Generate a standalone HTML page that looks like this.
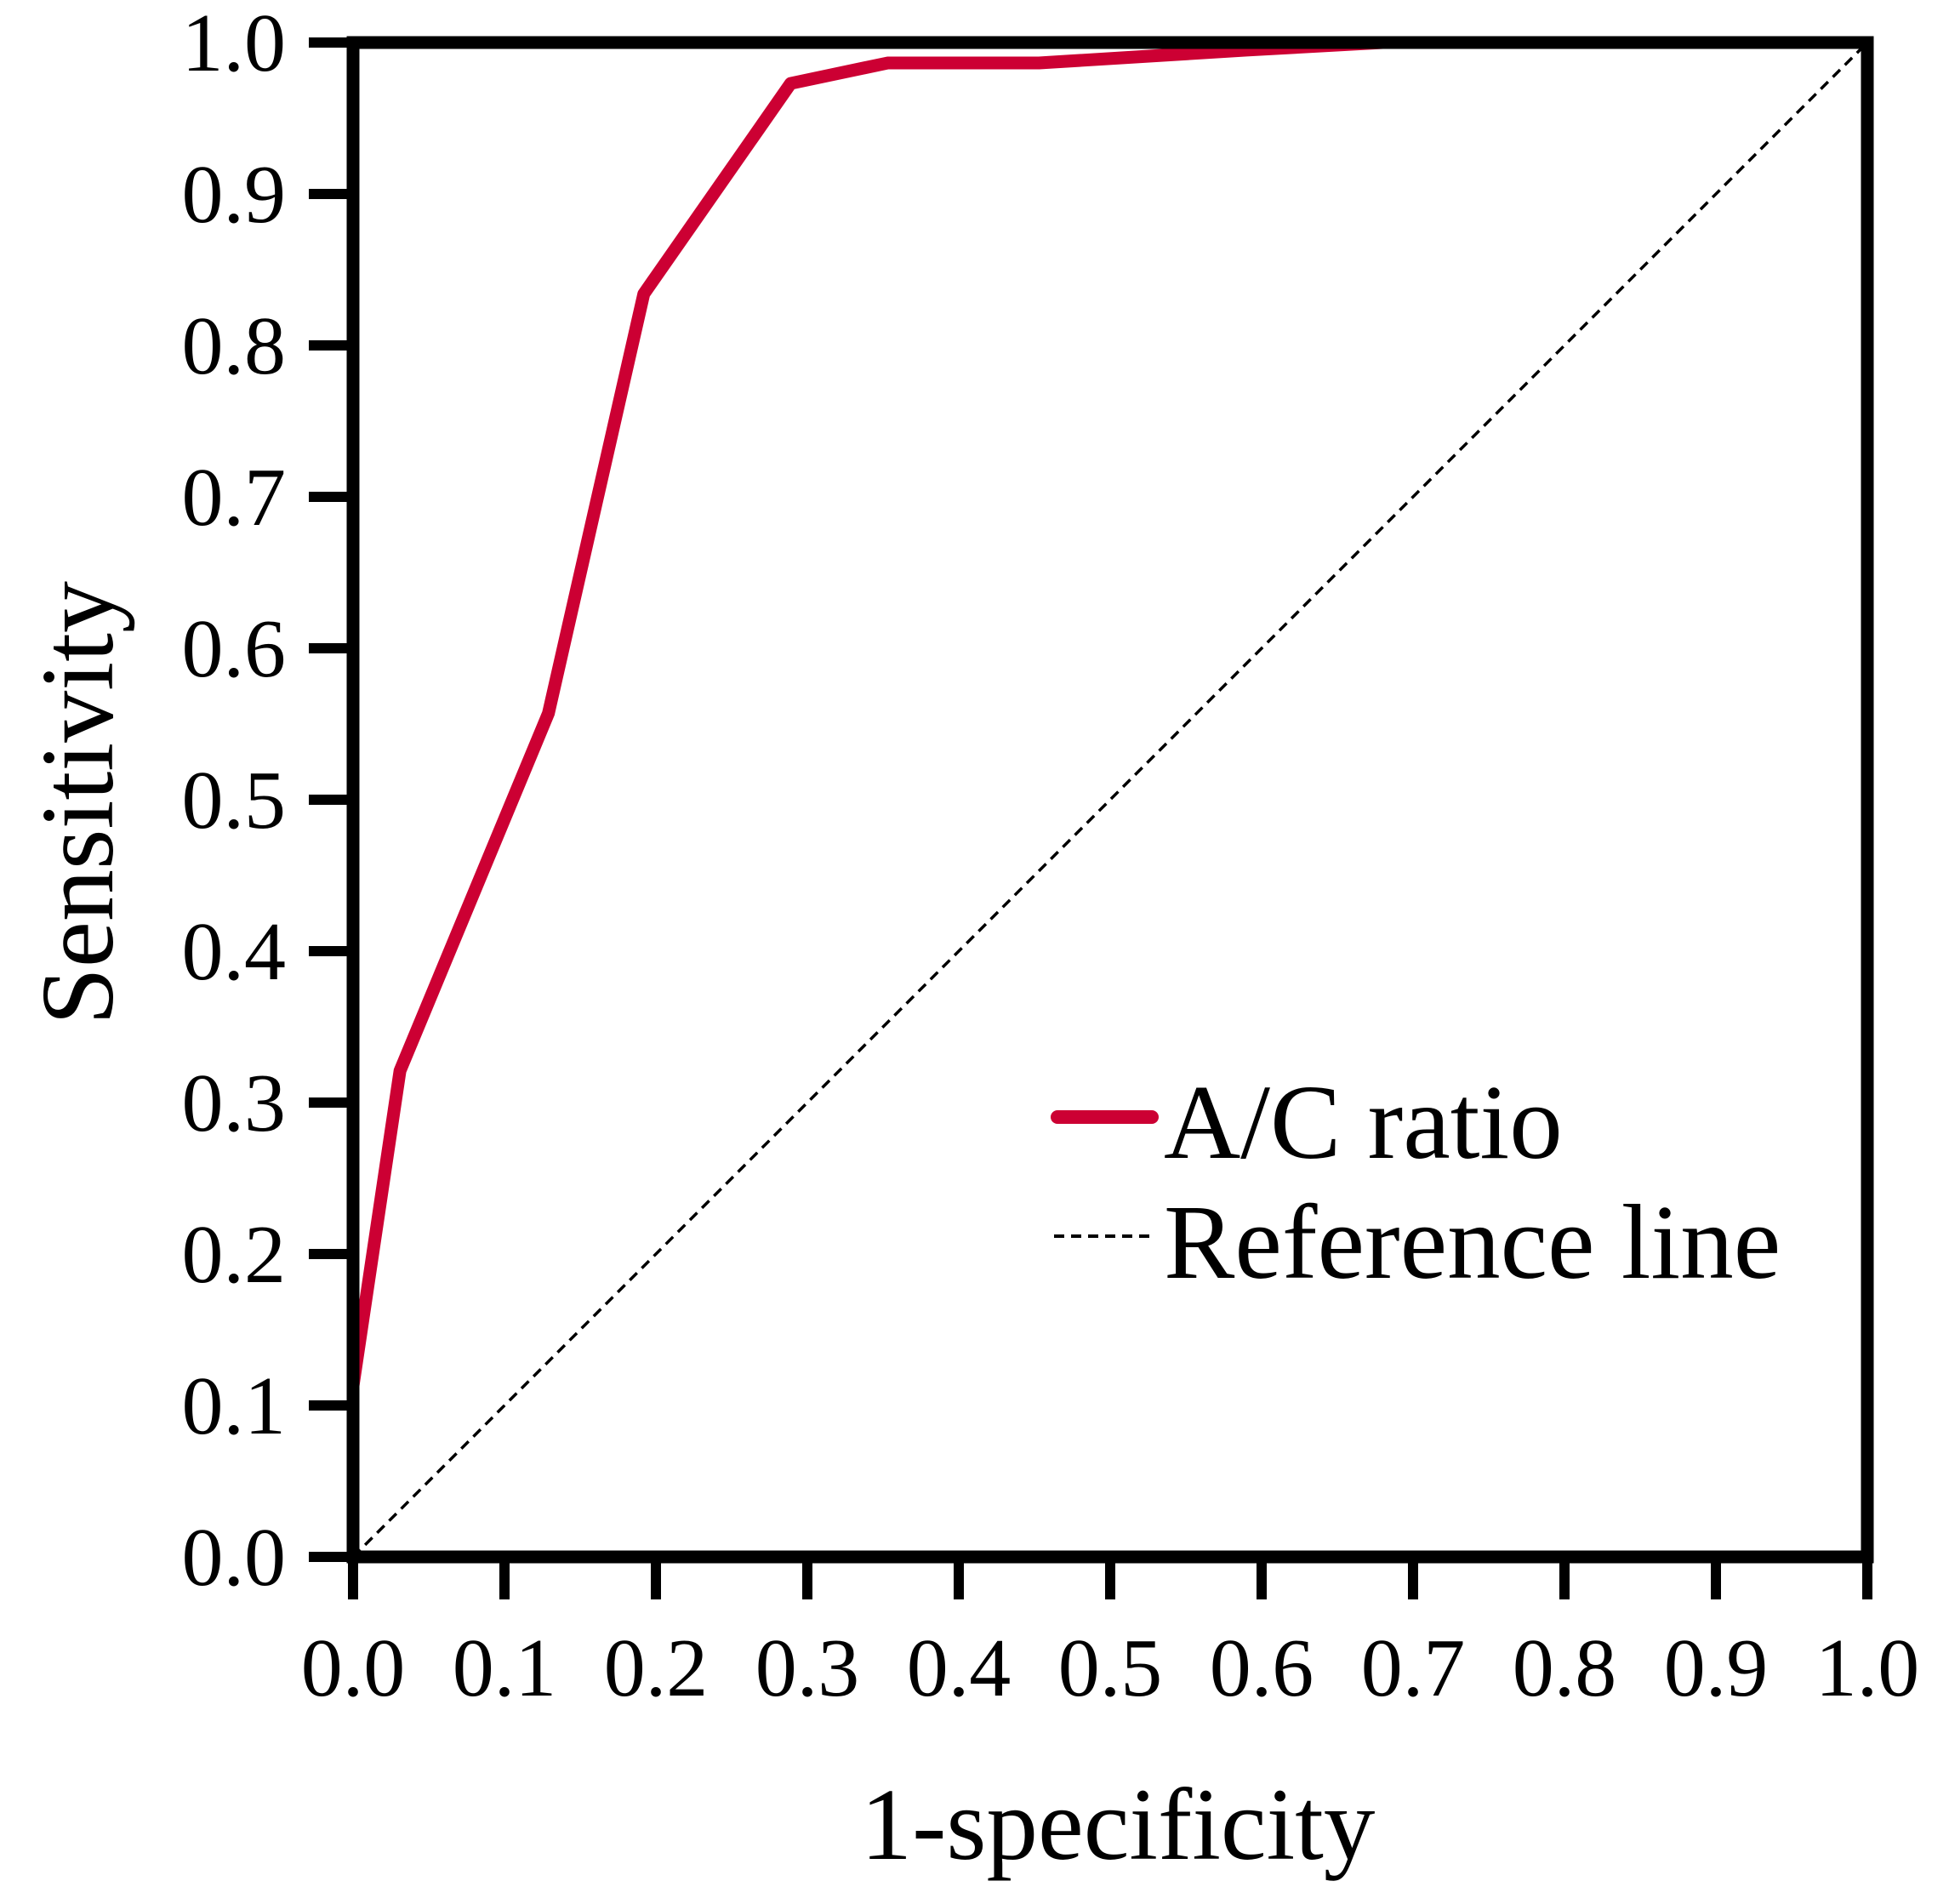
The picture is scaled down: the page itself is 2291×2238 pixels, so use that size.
<!DOCTYPE html>
<html><head><meta charset="utf-8"><style>
html,body{margin:0;padding:0;background:#fff;}
svg{display:block;}
text{font-family:"Liberation Serif","Times New Roman",serif;fill:#000;}
</style></head><body>
<svg id="chart" width="2291" height="2238" viewBox="0 0 2291 2238" xmlns="http://www.w3.org/2000/svg">
<g id="plot"></g>
</svg>
<script>
const fprValues = [0, 0.031, 0.129, 0.192, 0.289, 0.353, 0.453, 0.59, 0.68, 1.0];
const sensValues = [0.113, 0.321, 0.557, 0.834, 0.973, 0.9865, 0.9865, 0.995, 1.0, 1.0];
const refX = [0, 1];
const refY = [0, 1];
const tickValues = [0,0.1,0.2,0.3,0.4,0.5,0.6,0.7,0.8,0.9,1.0];
const tickLabels = ["0.0","0.1","0.2","0.3","0.4","0.5","0.6","0.7","0.8","0.9","1.0"];

const X0=415, X1=2195, Y0=1830, Y1=50;
function sx(v){return X0+(X1-X0)*v;}
function sy(v){return Y0-(Y0-Y1)*v;}
const NS="http://www.w3.org/2000/svg";
const g=document.getElementById('plot');
function mk(tag,attrs){const e=document.createElementNS(NS,tag);for(const k in attrs)e.setAttribute(k,attrs[k]);g.appendChild(e);return e;}

// reference diagonal
const ref=mk('polyline',{points:refX.map((x,i)=>sx(x)+','+sy(refY[i])).join(' '),fill:'none',stroke:'#000','stroke-width':3.5,'stroke-dasharray':'12 8'});



// ROC curve
const roc=mk('polyline',{points:fprValues.map((x,i)=>sx(x)+','+sy(sensValues[i])).join(' '),fill:'none',stroke:'#cc0033','stroke-width':15,'stroke-linejoin':'round'});



// frame
const frame=mk('rect',{x:X0,y:Y1,width:X1-X0,height:Y0-Y1,fill:'none',stroke:'#000','stroke-width':15});



tickValues.forEach((v,i)=>{
  const xt=mk('line',{x1:sx(v),y1:Y0,x2:sx(v),y2:1880,stroke:'#000','stroke-width':12});
  
  
  const xl=mk('text',{x:sx(v),y:1993,'font-size':98,'text-anchor':'middle'});
  xl.textContent=tickLabels[i];
  
  
  const yt=mk('line',{x1:363,y1:sy(v),x2:X0,y2:sy(v),stroke:'#000','stroke-width':12});
  
  
  const yl=mk('text',{x:336,y:sy(v)+33,'font-size':98,'text-anchor':'end'});
  yl.textContent=tickLabels[i];
  
  
});

const xtitle=mk('text',{x:1314,y:2185,'font-size':121,'text-anchor':'middle'});
xtitle.textContent='1-specificity';


const ytitle=mk('text',{x:0,y:0,'font-size':122,'text-anchor':'middle',transform:'translate(132,944) rotate(-90)'});
ytitle.textContent='Sensitivity';



// legend
const l1=mk('line',{x1:1243,y1:1313,x2:1354,y2:1313,stroke:'#cc0033','stroke-width':16,'stroke-linecap':'round'});


const t1=mk('text',{x:1368,y:1361,'font-size':125});
t1.textContent='A/C ratio';


const l2=mk('line',{x1:1239,y1:1453,x2:1351,y2:1453,stroke:'#000','stroke-width':4,'stroke-dasharray':'12 8'});


const t2=mk('text',{x:1368,y:1502,'font-size':125});
t2.textContent='Reference line';


</script>
</body></html>
